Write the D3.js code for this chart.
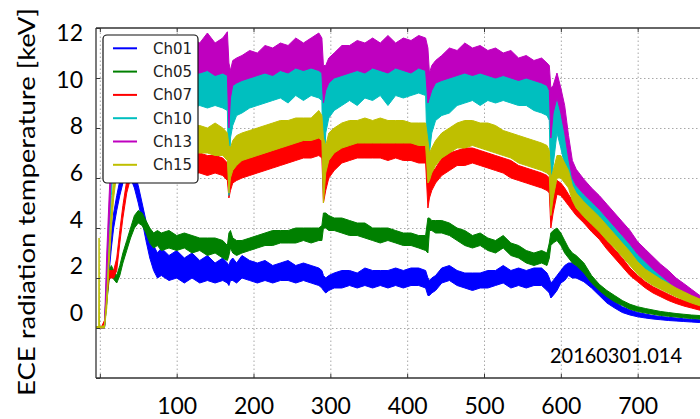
<!DOCTYPE html>
<html>
<head>
<meta charset="UTF-8">
<title>ECE radiation temperature</title>
<style>
  body { margin: 0; background: #fff; }
  text { font-family: Lato, sans-serif; fill: #000; }
  .grid line { stroke: #a8a8a8; stroke-width: 1; stroke-dasharray: 1.5,2.5; }
  .grid path { display: none; }
  .ticks path { display: none; }
  .ticks line { stroke: #333; }
  .legend text { font-family: "DejaVu Sans", sans-serif; font-size: 15px; fill: #222; }
</style>
<script src="https://cdn.jsdelivr.net/npm/d3@7"></script>
</head>
<body>
<svg width="700" height="419"></svg>
<script>
// time axis - shared by all channels
var time = [
  -5, -1.5, -1, -0.5, 2, 6,
  9, 12, 15, 18, 22, 26,
  30, 35, 40, 45, 50, 55, 60, 65, 70, 75, 80,
  90, 100, 110, 120, 130, 140, 150, 160,
  166, 168, 170, 173, 178,
  185, 195, 205, 215, 225, 235, 245, 255, 265, 275, 285,
  289, 291, 294, 298,
  305, 315, 325, 335, 345, 355, 365, 375, 385, 395, 405, 415, 424,
  427, 429, 432, 437,
  445, 455, 465, 475, 485, 495, 505, 515, 525, 535, 545, 555, 565, 575, 582,
  585, 587, 590, 595,
  600, 605, 610, 615, 620, 630, 640, 650, 660, 670, 680, 690, 700, 710, 720, 730, 740, 750, 760, 770, 780, 790
];

// each channel is a noisy trace, kept as lower / upper envelope [keV]
var ch01Lo = [
  0, 0, 0, 0, 0, 0,
  1.0, 2.2, 3.2, 4.0, 4.7, 5.3,
  5.8, 6.1, 6.0, 5.6, 5.0, 4.3, 3.5, 2.8, 2.3, 2.0, 2.1,
  1.9, 2.0, 1.8, 2.0, 1.8, 1.9, 1.8, 1.9,
  1.8, 1.7, 1.9, 1.9, 1.8,
  2.0, 1.9, 1.8, 1.9, 1.8, 1.9, 1.9, 1.8, 1.9, 1.8, 1.7,
  1.6, 1.5, 1.4, 1.5,
  1.6, 1.6, 1.7, 1.6, 1.7, 1.6, 1.7, 1.6, 1.7, 1.6, 1.7, 1.7, 1.6,
  1.3, 1.3, 1.4, 1.5,
  1.8, 1.9, 1.7, 1.6, 1.5, 1.6, 1.6, 1.7, 1.8, 1.6, 1.7, 1.6, 1.7, 1.7, 1.5,
  1.4, 1.2, 1.3, 1.5,
  1.8, 1.9, 2.1, 2.0, 2.0, 1.85, 1.6, 1.3, 1.0, 0.8, 0.62, 0.52, 0.45, 0.4, 0.36, 0.33, 0.3, 0.28, 0.26, 0.24, 0.22, 0.2
];
var ch01Hi = [
  0.04, 0.04, 0.04, 0.04, 0.04, 0.04,
  1.5, 2.8, 3.8, 4.6, 5.3, 5.9,
  6.4, 6.8, 6.7, 6.2, 5.7, 5.0, 4.3, 3.6, 3.3, 3.0, 3.2,
  2.9, 3.1, 2.8, 3.0, 2.7, 2.9, 2.6, 2.8,
  2.6, 2.5, 2.7, 2.8, 2.6,
  2.9, 2.7, 2.6, 2.7, 2.5, 2.6, 2.7, 2.5, 2.6, 2.5, 2.4,
  2.3, 2.1, 2.0, 2.1,
  2.2, 2.3, 2.3, 2.2, 2.4, 2.3, 2.3, 2.3, 2.4, 2.3, 2.4, 2.4, 2.3,
  2.0, 1.9, 2.0, 2.1,
  2.4, 2.5, 2.3, 2.2, 2.2, 2.2, 2.3, 2.3, 2.5, 2.3, 2.4, 2.3, 2.4, 2.4, 2.2,
  2.0, 1.8, 1.9, 2.1,
  2.3, 2.5, 2.6, 2.6, 2.5, 2.25, 1.95, 1.6, 1.3, 1.05, 0.85, 0.72, 0.62, 0.56, 0.5, 0.46, 0.43, 0.4, 0.37, 0.35, 0.33, 0.31
];

var ch05Lo = [
  0, 0, 0, 0, 0, 0,
  1.0, 1.9, 2.1, 1.95, 1.8, 2.1,
  2.6, 3.1, 3.6, 4.0, 4.2, 4.1, 3.8, 3.4, 3.2, 3.3, 3.1,
  3.2, 3.1, 3.2, 3.0, 3.1, 2.9, 3.0, 2.8,
  2.7, 2.9, 3.2, 3.0, 2.9,
  3.0, 3.1, 3.2, 3.3, 3.3, 3.4, 3.4, 3.4, 3.5, 3.4, 3.5,
  3.5, 4.0, 4.0, 3.9,
  3.9, 3.8, 3.7, 3.7, 3.6, 3.5, 3.4, 3.5, 3.4, 3.3, 3.3, 3.2, 3.1,
  3.0, 3.9, 3.9, 3.8,
  3.8, 3.7, 3.5, 3.3, 3.2, 3.3, 3.1, 3.0, 3.2, 2.9, 2.8, 2.6, 2.5, 2.6, 2.5,
  2.8, 3.3, 3.4, 3.5,
  3.3, 3.0, 2.8, 2.6, 2.5, 2.2, 1.8, 1.5, 1.25, 1.05, 0.9, 0.75, 0.66, 0.6, 0.55, 0.5, 0.47, 0.44, 0.41, 0.38, 0.36, 0.34
];
var ch05Hi = [
  0.04, 0.04, 0.04, 0.04, 0.04, 0.04,
  1.4, 2.3, 2.5, 2.3, 2.1, 2.5,
  3.0, 3.5, 4.0, 4.5, 4.7, 4.6, 4.3, 4.0, 3.8, 3.9, 3.8,
  3.9, 3.7, 3.8, 3.7, 3.6, 3.6, 3.6, 3.5,
  3.3, 3.8, 3.9, 3.6, 3.5,
  3.5, 3.6, 3.7, 3.8, 3.9, 3.9, 3.9, 4.0, 4.0, 4.0, 4.0,
  4.1, 4.6, 4.6, 4.5,
  4.4, 4.4, 4.3, 4.2, 4.2, 4.0, 4.0, 4.0, 3.9, 3.8, 3.8, 3.7, 3.7,
  4.4, 4.4, 4.3, 4.3,
  4.3, 4.2, 4.0, 3.9, 3.7, 3.8, 3.6, 3.5, 3.7, 3.4, 3.3, 3.1, 3.0, 3.1, 3.0,
  3.4, 3.8, 3.9, 4.0,
  3.8, 3.5, 3.2, 3.0, 2.9, 2.6, 2.1, 1.75, 1.5, 1.3, 1.1, 0.95, 0.85, 0.78, 0.72, 0.66, 0.62, 0.58, 0.55, 0.52, 0.5, 0.48
];

var ch07Lo = [
  0, 0, 0, 0, 0, 0.1,
  1.2, 2.0, 2.0, 2.0, 2.3, 3.4,
  4.4, 5.4, 6.0, 6.2, 6.3, 6.3, 6.2, 6.3, 6.2, 6.3, 6.2,
  6.3, 6.2, 6.3, 6.2, 6.2, 6.1, 6.2, 6.1,
  5.9, 5.2, 5.5, 5.8, 5.9,
  6.0, 6.1, 6.2, 6.3, 6.4, 6.5, 6.6, 6.7, 6.8, 6.8, 6.9,
  6.8, 5.0, 5.5, 6.0,
  6.3, 6.6, 6.7, 6.8, 6.8, 6.8, 6.8, 6.7, 6.8, 6.7, 6.7, 6.6, 6.6,
  4.8, 5.2, 5.5, 5.8,
  6.1, 6.3, 6.5, 6.5, 6.6, 6.5, 6.4, 6.3, 6.2, 6.0, 5.9, 5.8, 5.7, 5.6, 5.5,
  5.4, 4.0, 4.6, 5.35,
  5.3, 5.1, 4.9, 4.7, 4.5, 4.2, 3.85, 3.55, 3.15, 2.8, 2.45, 2.1, 1.85, 1.6, 1.4, 1.25, 1.1, 0.98, 0.88, 0.8, 0.72, 0.66
];
var ch07Hi = [
  0.04, 0.04, 0.04, 0.04, 0.04, 0.3,
  1.6, 2.3, 2.3, 2.3, 2.8, 3.9,
  4.9, 5.9, 6.6, 6.9, 7.0, 7.0, 6.9, 7.0, 7.0, 7.1, 6.9,
  7.0, 7.0, 7.0, 6.9, 7.0, 6.9, 6.9, 6.8,
  6.6, 6.2, 6.3, 6.5, 6.6,
  6.7, 6.8, 6.9, 7.0, 7.1, 7.2, 7.3, 7.4, 7.5, 7.5, 7.6,
  7.5, 6.6, 6.3, 6.7,
  7.0, 7.3, 7.4, 7.5, 7.5, 7.5, 7.4, 7.4, 7.5, 7.4, 7.4, 7.3, 7.3,
  6.5, 6.0, 6.2, 6.4,
  6.8, 7.0, 7.1, 7.2, 7.2, 7.1, 7.0, 6.9, 6.8, 6.7, 6.5, 6.4, 6.3, 6.2, 6.1,
  6.0, 5.2, 5.3, 5.9,
  5.8, 5.6, 5.35, 5.1, 4.9, 4.55, 4.2, 3.9, 3.5, 3.15, 2.8, 2.4, 2.1, 1.85, 1.65, 1.5, 1.35, 1.2, 1.1, 1.0, 0.92, 0.86
];

var ch10Lo = [
  0, 0, 0, 0, 0, 0,
  1.5, 3.5, 5.3, 6.7, 7.8, 8.5,
  8.8, 8.9, 8.8, 8.9, 8.8, 8.9, 8.8, 8.9, 8.8, 8.9, 8.8,
  8.9, 8.8, 8.9, 8.8, 8.9, 8.8, 8.9, 8.8,
  8.7, 5.3, 7.6, 8.1, 8.5,
  8.6, 8.8, 8.9, 9.0, 9.1, 9.2, 9.0, 9.3, 9.1, 9.3, 9.2,
  9.1, 5.5, 7.8, 8.4,
  8.7, 8.9, 9.1, 8.9, 9.2, 9.1, 9.3, 8.9, 9.3, 9.2, 9.3, 9.4, 9.3,
  6.0, 7.0, 7.8, 8.3,
  8.5, 8.6, 8.9, 9.0, 9.1, 8.9, 9.1, 9.0, 9.1, 9.0, 8.9, 8.9, 8.7, 8.6, 8.5,
  8.3, 5.0, 6.5, 7.8,
  7.2, 6.5, 5.9, 5.3, 5.0, 4.6, 4.3, 4.0, 3.7, 3.4, 3.05, 2.7, 2.35, 2.1, 1.9, 1.7, 1.55, 1.4, 1.25, 1.1, 0.95, 0.85
];
var ch10Hi = [
  0.04, 0.04, 0.04, 0.04, 0.04, 0.04,
  2.2, 4.3, 6.2, 7.6, 8.7, 9.5,
  10.2, 10.3, 10.2, 10.3, 10.2, 10.4, 10.3, 10.2, 10.4, 10.3, 10.2,
  10.3, 10.3, 10.3, 10.3, 10.4, 10.3, 10.4, 10.3,
  10.3, 9.0, 9.4, 9.9, 10.0,
  10.1, 10.2, 10.3, 10.4, 10.4, 10.5, 10.5, 10.6, 10.6, 10.6, 10.6,
  10.5, 9.2, 9.6, 9.9,
  10.1, 10.2, 10.3, 10.4, 10.4, 10.5, 10.5, 10.4, 10.5, 10.5, 10.6, 10.6, 10.6,
  9.5, 9.3, 9.6, 9.9,
  10.0, 10.1, 10.2, 10.3, 10.3, 10.3, 10.3, 10.2, 10.2, 10.1, 10.0, 10.1, 10.0, 9.9, 9.8,
  9.6, 8.5, 8.7, 9.3,
  8.7, 7.9, 6.8, 6.0, 5.7, 5.35, 5.05, 4.75, 4.4, 4.05, 3.7, 3.35, 2.95, 2.65, 2.35, 2.1, 1.85, 1.62, 1.45, 1.3, 1.17, 1.05
];

var ch13Lo = [
  0, 0, 0, 0, 0, 0,
  2.0, 4.2, 6.2, 7.8, 9.0, 9.6,
  10.2, 10.1, 10.3, 10.2, 10.1, 10.3, 10.2, 10.1, 10.3, 10.2, 10.1,
  10.2, 10.3, 10.1, 10.2, 10.2, 10.3, 10.1, 10.2,
  10.1, 8.0, 9.2, 9.7, 9.8,
  9.9, 10.0, 10.1, 10.2, 10.1, 10.3, 10.2, 10.4, 10.3, 10.4, 10.3,
  10.2, 9.0, 9.5, 9.8,
  10.0, 10.1, 10.2, 10.3, 10.2, 10.4, 10.3, 10.2, 10.4, 10.3, 10.2, 10.4, 10.3,
  9.0, 9.2, 9.5, 9.8,
  9.9, 10.0, 10.1, 10.2, 10.1, 10.2, 10.1, 10.0, 10.1, 10.0, 9.9, 10.0, 9.9, 9.8, 9.7,
  9.5, 7.6, 8.6, 9.2,
  8.6, 7.8, 6.8, 6.0, 5.7, 5.35, 5.05, 4.75, 4.4, 4.05, 3.7, 3.35, 2.95, 2.65, 2.35, 2.1, 1.85, 1.6, 1.4, 1.2, 1.0, 0.85
];
var ch13Hi = [
  0.04, 0.04, 0.04, 0.04, 0.04, 0.04,
  3.0, 5.2, 7.2, 8.8, 10.2, 11.0,
  11.3, 11.4, 11.5, 11.3, 11.5, 11.4, 11.5, 11.3, 11.5, 11.4, 11.5,
  11.4, 11.7, 11.3, 11.6, 11.4, 11.8, 11.4, 11.6,
  11.85, 10.6, 10.3, 10.7, 10.8,
  10.9, 11.1, 11.0, 11.3, 11.2, 11.4, 11.3, 11.6, 11.4, 11.6, 11.8,
  11.6, 10.5, 10.5, 10.8,
  11.0, 11.3, 11.3, 11.5, 11.4, 11.6, 11.4, 11.7, 11.4, 11.6, 11.5, 11.7, 11.6,
  11.2, 10.2, 10.5, 10.7,
  10.9, 11.2, 11.1, 11.4, 11.2, 11.3, 11.1, 11.2, 11.0, 11.1, 10.8, 10.9, 10.7, 10.8, 10.6,
  10.5, 9.6, 9.7, 10.2,
  9.6, 8.9, 7.7, 6.7, 6.35, 5.95, 5.6, 5.3, 4.95, 4.6, 4.25, 3.9, 3.45, 3.15, 2.85, 2.55, 2.3, 2.0, 1.78, 1.55, 1.32, 1.15
];

var ch15Lo = [
  0, 0, 0, 0, 0, 0,
  0.8, 2.5, 4.0, 5.2, 6.2, 6.8,
  7.0, 7.0, 7.0, 7.0, 7.0, 7.0, 7.0, 7.0, 7.0, 7.0, 7.0,
  7.0, 7.0, 7.0, 7.0, 7.0, 7.0, 6.9, 6.9,
  6.7, 5.4, 6.0, 6.3, 6.5,
  6.7, 6.8, 6.9, 7.0, 7.1, 7.2, 7.3, 7.4, 7.5, 7.5, 7.6,
  7.5, 5.0, 6.2, 6.7,
  7.0, 7.2, 7.3, 7.4, 7.4, 7.4, 7.4, 7.4, 7.4, 7.4, 7.4, 7.3, 7.3,
  5.8, 5.9, 6.2, 6.5,
  6.8, 7.0, 7.2, 7.2, 7.3, 7.2, 7.1, 7.0, 6.9, 6.8, 6.6, 6.5, 6.4, 6.3, 6.2,
  6.1, 4.5, 5.2, 6.0,
  6.0, 5.8, 5.6, 5.1, 4.8, 4.45, 4.15, 3.85, 3.5, 3.2, 2.85, 2.5, 2.15, 1.9, 1.7, 1.55, 1.4, 1.25, 1.12, 1.0, 0.9, 0.8
];
var ch15Hi = [
  0.06, 0.06, 3.6, 0.06, 0.06, 0.1,
  1.3, 3.2, 4.8, 6.0, 7.0, 7.6,
  7.9, 8.0, 8.1, 8.0, 8.1, 8.0, 8.1, 8.0, 8.1, 8.0, 8.1,
  8.0, 8.1, 8.0, 8.1, 8.1, 8.0, 8.2, 8.0,
  7.8, 7.3, 7.2, 7.5, 7.7,
  7.8, 7.9, 8.0, 8.1, 8.2, 8.3, 8.3, 8.4, 8.4, 8.4, 8.7,
  8.5, 7.6, 7.3, 7.8,
  8.0, 8.2, 8.3, 8.3, 8.4, 8.3, 8.4, 8.3, 8.3, 8.3, 8.2, 8.2, 8.2,
  7.5, 7.0, 7.2, 7.5,
  7.8, 8.0, 8.2, 8.3, 8.3, 8.2, 8.2, 8.1, 7.9, 7.8, 7.7, 7.6, 7.5, 7.4, 7.3,
  7.1, 6.0, 6.3, 6.9,
  6.9, 6.6, 6.3, 5.7, 5.4, 5.05, 4.75, 4.45, 4.1, 3.75, 3.4, 3.05, 2.65, 2.35, 2.15, 1.95, 1.78, 1.6, 1.45, 1.3, 1.17, 1.05
];

var channels = ["Ch01", "Ch05", "Ch07", "Ch10", "Ch13", "Ch15"];
var colors = ["#0000ff", "#008000", "#ff0000", "#00bfbf", "#bf00bf", "#bfbf00"];
var lows = [ch01Lo, ch05Lo, ch07Lo, ch10Lo, ch13Lo, ch15Lo];
var highs = [ch01Hi, ch05Hi, ch07Hi, ch10Hi, ch13Hi, ch15Hi];

var xTicks = [100, 200, 300, 400, 500, 600, 700];
var yTicks = [0, 2, 4, 6, 8, 10, 12];
var shotLabel = "20160301.014";
var yTitle = "ECE radiation temperature [keV]";

//... frame of the plot
var svg = d3.select("svg");
var pLeft = 96, pTop = 28, pBottom = 378, pRight = 714.5;

var x = d3.scaleLinear().domain([-5, 800]).range([pLeft, pRight]);
var y = d3.scaleLinear().domain([-2, 12]).range([pBottom, pTop]);
// the tick numbers sit a bit off the grid in the original figure
var yLab = d3.scaleLinear().domain([0, 12]).range([313, 33]);

svg.append("clipPath").attr("id", "plotClip")
   .append("rect").attr("x", pLeft).attr("y", pTop)
   .attr("width", pRight - pLeft).attr("height", pBottom - pTop);

// dotted grid
svg.append("g").attr("class", "grid")
   .attr("transform", "translate(0," + pBottom + ")")
   .call(d3.axisBottom(x).tickValues([0].concat(xTicks)).tickSize(-(pBottom - pTop)).tickFormat(""));
svg.append("g").attr("class", "grid")
   .attr("transform", "translate(" + pLeft + ",0)")
   .call(d3.axisLeft(y).tickValues([0, 2, 4, 6, 8, 10]).tickSize(-(pRight - pLeft)).tickFormat(""));

//... channel bands, drawn in legend order
var plot = svg.append("g").attr("clip-path", "url(#plotClip)");
channels.forEach(function(name, i) {
    var lo = lows[i], hi = highs[i];
    var area = d3.area()
        .x(function(d, k) { return x(time[k]); })
        .y0(function(d, k) { return y(lo[k]); })
        .y1(function(d, k) { return y(hi[k]); });
    plot.append("path")
        .datum(time)
        .attr("d", area)
        .style("fill", colors[i])
        .style("stroke", colors[i])
        .style("stroke-width", 1)
        .style("stroke-linejoin", "round");
});

// inward tick marks
svg.append("g").attr("class", "ticks")
   .attr("transform", "translate(0," + pBottom + ")")
   .call(d3.axisBottom(x).tickValues([0].concat(xTicks)).tickSize(-4).tickFormat(""));
svg.append("g").attr("class", "ticks")
   .attr("transform", "translate(0," + pTop + ")")
   .call(d3.axisTop(x).tickValues([0].concat(xTicks)).tickSize(-4).tickFormat(""));
svg.append("g").attr("class", "ticks")
   .attr("transform", "translate(" + pLeft + ",0)")
   .call(d3.axisLeft(y).tickValues([-2, 0, 2, 4, 6, 8, 10, 12]).tickSize(-4).tickFormat(""));

// frame
var frame = svg.append("g").style("stroke", "#333").style("stroke-width", 1.3).style("fill", "none");
frame.append("line").attr("x1", pLeft).attr("x2", 700).attr("y1", pTop).attr("y2", pTop);
frame.append("line").attr("x1", pLeft).attr("x2", 700).attr("y1", pBottom).attr("y2", pBottom);
frame.append("line").attr("x1", pLeft).attr("x2", pLeft).attr("y1", pTop).attr("y2", pBottom);

// tick labels
var xLabels = svg.append("g")
   .attr("transform", "translate(0,398)")
   .call(d3.axisBottom(x).tickValues(xTicks).tickSize(0).tickPadding(0));
xLabels.select(".domain").remove();
xLabels.selectAll("text").style("font-family", "Lato, sans-serif").style("font-size", "23px").style("fill", "#000");

var yLabels = svg.append("g")
   .attr("transform", "translate(83,0)")
   .call(d3.axisLeft(yLab).tickValues(yTicks).tickSize(0).tickPadding(0));
yLabels.select(".domain").remove();
yLabels.selectAll("text").style("font-family", "Lato, sans-serif").style("font-size", "23px").style("fill", "#000");

// axis title
svg.append("text")
   .attr("transform", "translate(35,202) rotate(-90)")
   .attr("text-anchor", "middle")
   .attr("textLength", 388)
   .attr("lengthAdjust", "spacingAndGlyphs")
   .style("font-size", "23px")
   .text(yTitle);

// shot number
svg.append("text")
   .attr("x", 550).attr("y", 363)
   .attr("textLength", 132)
   .attr("lengthAdjust", "spacingAndGlyphs")
   .style("font-size", "22px")
   .text(shotLabel);

//... legend
var legend = svg.append("g").attr("class", "legend");
legend.append("rect")
   .attr("x", 103).attr("y", 35).attr("width", 95).attr("height", 148)
   .attr("rx", 4).attr("ry", 4)
   .style("fill", "#fff").style("stroke", "#111").style("stroke-width", 1.2);
var row = d3.scaleLinear().domain([0, 1]).range([48.3, 71.6]);
channels.forEach(function(name, i) {
    legend.append("line")
        .attr("x1", 113).attr("x2", 137)
        .attr("y1", row(i)).attr("y2", row(i))
        .style("stroke", colors[i]).style("stroke-width", 2);
    legend.append("text")
        .attr("x", 153).attr("y", row(i)).attr("dy", "0.36em")
        .text(name);
});
</script>
</body>
</html>
